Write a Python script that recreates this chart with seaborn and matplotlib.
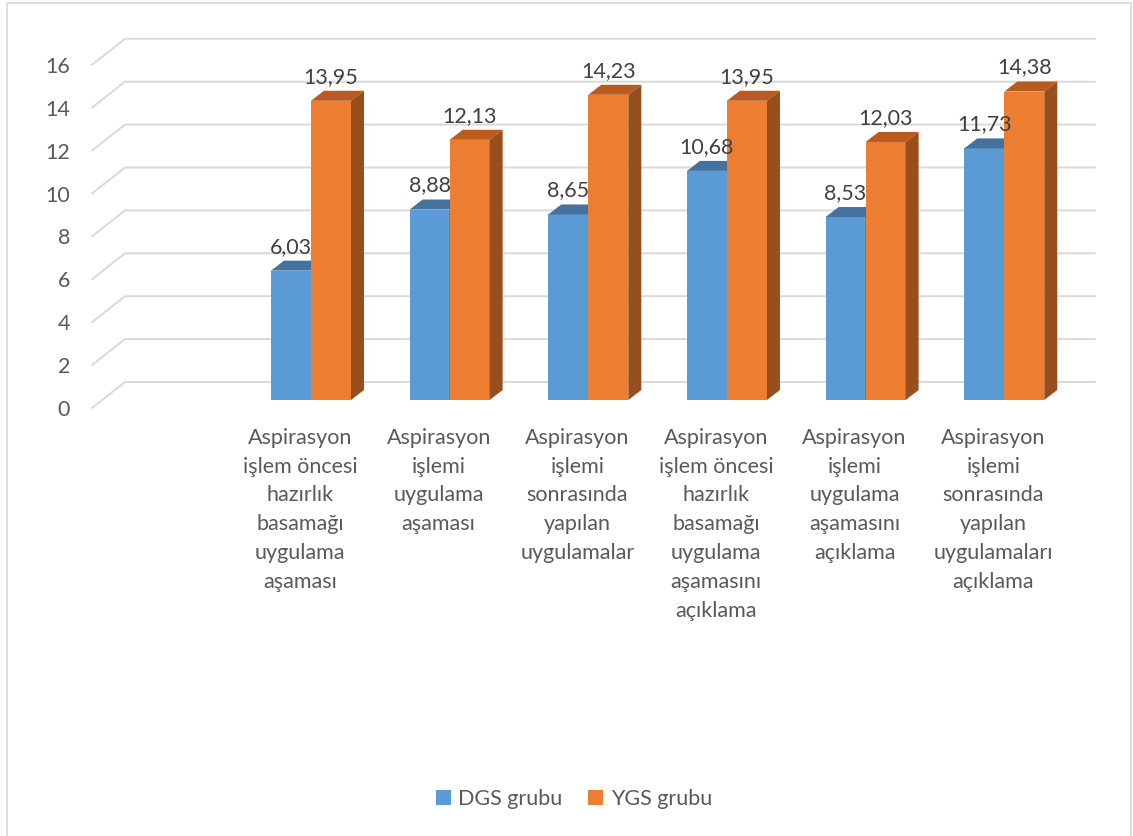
import textwrap

import matplotlib
matplotlib.use("Agg")
import matplotlib.pyplot as plt
import matplotlib.transforms as mtransforms
from matplotlib.lines import Line2D
from matplotlib.patches import Patch, Polygon, Rectangle
import pandas as pd
import seaborn as sns

# ---- data -------------------------------------------------------------
categories = [
    "Aspirasyon işlem öncesi hazırlık basamağı uygulama aşaması",
    "Aspirasyon işlemi uygulama aşaması",
    "Aspirasyon işlemi sonrasında yapılan uygulamalar",
    "Aspirasyon işlem öncesi hazırlık basamağı uygulama aşamasını açıklama",
    "Aspirasyon işlemi uygulama aşamasını açıklama",
    "Aspirasyon işlemi sonrasında yapılan uygulamaları açıklama",
]
dgs_values = [6.03, 8.88, 8.65, 10.68, 8.53, 11.73]
ygs_values = [13.95, 12.13, 14.23, 13.95, 12.03, 14.38]
groups = ["DGS grubu", "YGS grubu"]
y_ticks = [0, 2, 4, 6, 8, 10, 12, 14, 16]

# ---- style ------------------------------------------------------------
sns.set_theme(style="white")
plt.rcParams["font.family"] = ["Lato", "DejaVu Sans"]

front_col = {"DGS grubu": "#5B9BD5", "YGS grubu": "#ED7D31"}
top_col = {"DGS grubu": "#44729C", "YGS grubu": "#B95A1E"}
side_col = {"DGS grubu": "#3A6690", "YGS grubu": "#984E1D"}
text_col = "#595959"
label_col = "#404040"
grid_col = "#D9D9D9"
FS = 15.5

W, H, DPI = 1133, 836, 100
fig = plt.figure(figsize=(W / DPI, H / DPI), dpi=DPI)
fig.patch.set_facecolor("white")

# plane on which the bar fronts stand (pixel layout of the plot area)
ax_left, ax_right, ax_bottom, ax_top = 103, 1073.6, 400, 56.8
ax = fig.add_axes([ax_left / W, 1 - ax_bottom / H,
                   (ax_right - ax_left) / W, (ax_bottom - ax_top) / H])
ax.set_facecolor("none")

labels = [textwrap.fill(c, 12) for c in categories]
order = [""] + labels          # leading empty slot on the category axis
df = pd.DataFrame({
    "category": labels * 2,
    "group": [groups[0]] * len(labels) + [groups[1]] * len(labels),
    "value": dgs_values + ygs_values,
})

sns.barplot(data=df, x="category", y="value", hue="group", order=order,
            hue_order=groups, palette=front_col, saturation=1, width=0.577,
            gap=0, linewidth=0, legend=False, errorbar=None, ax=ax)

n_slots = len(order)
ax.set_xlim(-0.5, n_slots - 0.5)
ax.set_ylim(0, 16)
px_x = (ax_right - ax_left) / n_slots
px_y = (ax_bottom - ax_top) / 16

# depth of each 3D bar (screen offset of its back face)
dx, dy = 13 / px_x, 10 / px_y

for gi, cont in enumerate(ax.containers):
    g = groups[gi]
    z = 2 + gi
    for bar in cont:
        x0, w, h = bar.get_x(), bar.get_width(), bar.get_height()
        x1 = x0 + w
        bar.set_zorder(z)
        bar.set_clip_on(False)
        ax.add_patch(Polygon([(x0, h), (x1, h), (x1 + dx, h + dy), (x0 + dx, h + dy)],
                             closed=True, fc=top_col[g], ec="none", zorder=z, clip_on=False))
        ax.add_patch(Polygon([(x1, 0), (x1, h), (x1 + dx, h + dy), (x1 + dx, dy)],
                             closed=True, fc=side_col[g], ec="none", zorder=z, clip_on=False))
        ax.annotate(f"{h:.2f}".replace(".", ","), (x0 + w / 2, h),
                    xytext=(0, 13), textcoords="offset points",
                    ha="center", va="baseline", fontsize=FS, color=label_col,
                    zorder=6, annotation_clip=False)

# perspective gridlines: back wall plus the slanted floor edge on the left
gx_front = (92 - ax_left) / px_x - 0.5
gx_back0 = (125 - ax_left) / px_x - 0.5
gx_back1 = (1095 - ax_left) / px_x - 0.5
for v in y_ticks:
    yb = v + 18 / px_y
    yf = v - 8 / px_y
    ax.add_artist(Line2D([gx_front, gx_back0, gx_back1], [yf, yb, yb],
                         color=grid_col, lw=1.4, zorder=0.5, clip_on=False))

ax.set_xlim(-0.5, n_slots - 0.5)
ax.set_ylim(0, 16)
ax.set_yticks(y_ticks)
ax.set_yticklabels([str(v) for v in y_ticks])
ax.set_xlabel("")
ax.set_ylabel("")
for s in ax.spines.values():
    s.set_visible(False)
ax.grid(False)

ax.tick_params(axis="y", length=0, pad=23.8, labelsize=FS, labelcolor=text_col)
ax.tick_params(axis="x", length=0, pad=20, labelsize=FS, labelcolor=text_col)

for lab in ax.get_yticklabels():
    lab.set_transform(lab.get_transform() +
                      mtransforms.ScaledTranslation(0, -0.08, fig.dpi_scale_trans))
for lab in ax.get_xticklabels():
    lab.set_linespacing(1.55)
    lab.set_transform(lab.get_transform() +
                      mtransforms.ScaledTranslation(-0.11, 0, fig.dpi_scale_trans))

# legend
handles = [Patch(fc=front_col[g], ec="none", label=g) for g in groups]
fig.legend(handles=handles, loc="center", bbox_to_anchor=(574 / W, 1 - 799 / H),
           ncol=2, frameon=False, handlelength=0.7, handleheight=0.7,
           handletextpad=0.35, columnspacing=1.2, fontsize=FS, labelcolor=text_col)

# chart area border
fig.add_artist(Rectangle((7 / W, -0.05), (1131 - 7) / W, 1.05 - 2.5 / H,
                         transform=fig.transFigure, fill=False, ec=grid_col, lw=1.2))

fig.savefig("out.png", dpi=DPI, facecolor="white")
